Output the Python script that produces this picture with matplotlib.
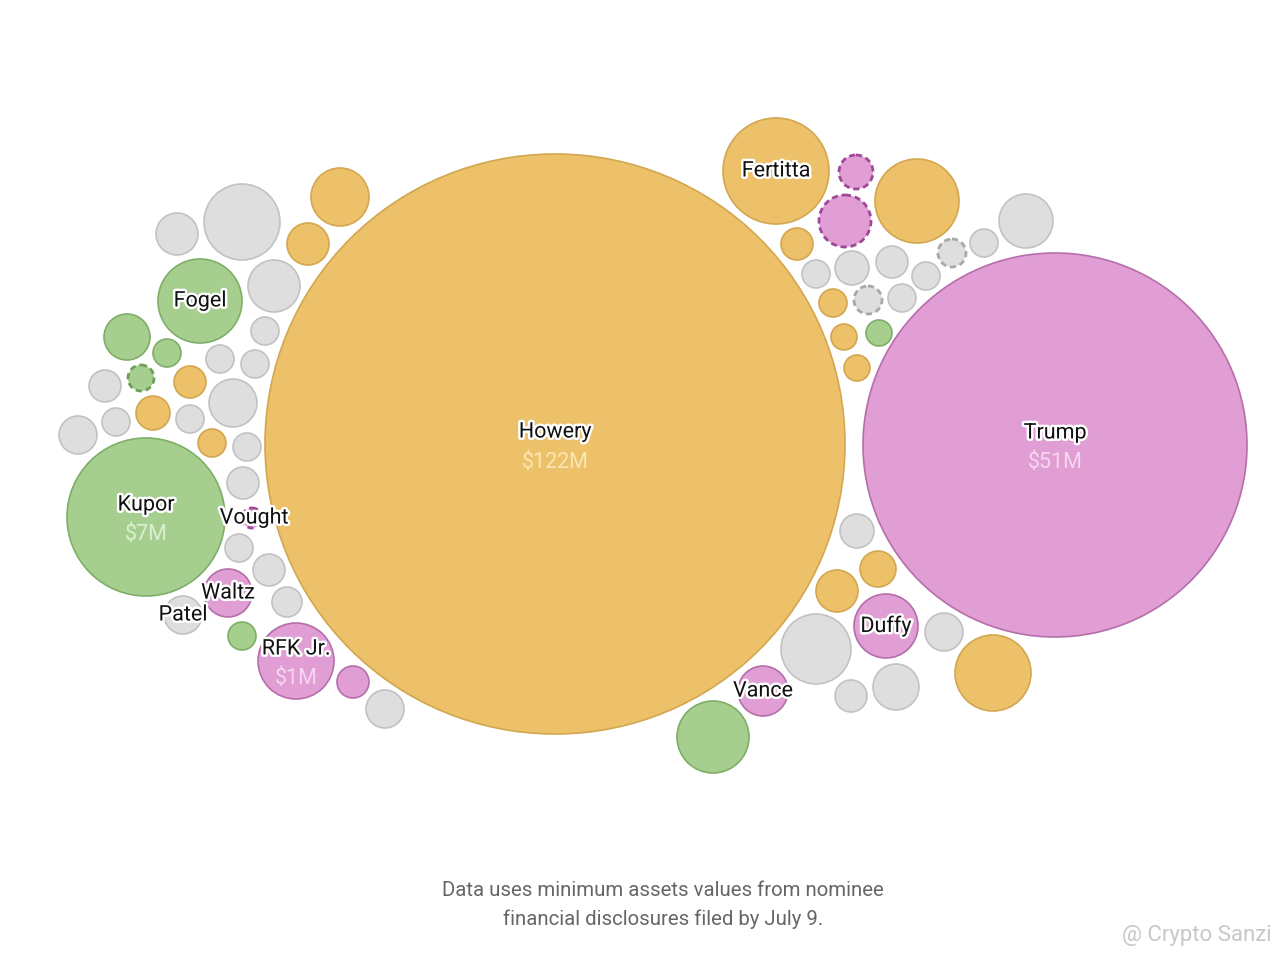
import matplotlib.pyplot as plt
from matplotlib.patches import Circle
import matplotlib.patheffects as pe

# ---------------------------------------------------
# bubble layout (pixel units, y down)
# group: o = orange, p = pink, g = green, n = gray ; dashed = 1

xs = [555, 1055, 146, 200, 776, 296, 886, 763, 228, 183, 252,
      177, 242, 340, 308, 274, 265, 127, 167, 220, 255, 141, 105, 190, 233,
      153, 116, 190, 78, 212, 247, 243, 239, 269, 287, 242, 353, 385,
      856, 917, 845, 1026, 797, 816, 852, 892, 926, 952, 984, 833, 868,
      902, 844, 879, 857,
      857, 878, 837, 816, 944, 993, 851, 896, 713]
ys = [444, 445, 517, 301, 171, 661, 626, 691, 593, 615, 518,
      234, 222, 197, 244, 286, 331, 337, 353, 359, 364, 378, 386, 382, 403,
      413, 422, 419, 435, 443, 447, 483, 548, 570, 602, 636, 682, 709,
      172, 201, 221, 221, 244, 274, 268, 262, 276, 253, 243, 303, 300,
      298, 337, 333, 368,
      531, 569, 591, 649, 632, 673, 696, 687, 737]
rs = [290, 192, 79, 42, 53, 38, 32, 25, 24, 19, 10,
      21, 38, 29, 21, 26, 14, 23, 14, 14, 14, 13, 16, 16, 24,
      17, 14, 14, 19, 14, 14, 16, 14, 16, 15, 14, 16, 19,
      17, 42, 26, 27, 16, 14, 17, 16, 14, 14, 14, 14, 14,
      14, 13, 13, 13,
      17, 18, 21, 35, 19, 38, 16, 23, 36]
groups = ['o', 'p', 'g', 'g', 'o', 'p', 'p', 'p', 'p', 'n', 'p',
          'n', 'n', 'o', 'o', 'n', 'n', 'g', 'g', 'n', 'n', 'g', 'n', 'o', 'n',
          'o', 'n', 'n', 'n', 'o', 'n', 'n', 'n', 'n', 'n', 'g', 'p', 'n',
          'p', 'o', 'p', 'n', 'o', 'n', 'n', 'n', 'n', 'n', 'n', 'o', 'n',
          'n', 'o', 'g', 'o',
          'n', 'o', 'o', 'n', 'n', 'o', 'n', 'n', 'g']
dashed = [0, 0, 0, 0, 0, 0, 0, 0, 0, 0, 1,
          0, 0, 0, 0, 0, 0, 0, 0, 0, 0, 1, 0, 0, 0,
          0, 0, 0, 0, 0, 0, 0, 0, 0, 0, 0, 0, 0,
          1, 0, 1, 0, 0, 0, 0, 0, 0, 1, 0, 0, 1,
          0, 0, 0, 0,
          0, 0, 0, 0, 0, 0, 0, 0, 0]

# labels: (name, value, label x, label y)
names = ['Howery', 'Trump', 'Kupor', 'Fogel', 'Fertitta', 'RFK Jr.', 'Duffy',
         'Vance', 'Waltz', 'Patel', 'Vought']
values = ['$122M', '$51M', '$7M', '', '', '$1M', '', '', '', '', '']
label_x = [555, 1055, 146, 200, 776, 296, 886, 763, 228, 183, 254]
label_y = [432, 433, 505, 301, 171, 649, 626, 691, 593, 615, 518]

note = 'Data uses minimum assets values from nominee\nfinancial disclosures filed by July 9.'

fill = {'o': '#EDC06A', 'p': '#E09ED5', 'g': '#A6CF8F', 'n': '#DEDEDF'}
edge = {'o': '#D3A650', 'p': '#B56EAB', 'g': '#7EAE68', 'n': '#C2C2C4'}
dash_edge = {'o': '#C08A30', 'p': '#A0479A', 'g': '#6E9E58', 'n': '#A8A8AA'}
val_col = {'o': '#FCE6B2', 'p': '#F7D6F0', 'g': '#DCEFD0', 'n': '#FFFFFF'}

# ---------------------------------------------------

plt.rcParams['font.family'] = ['Roboto', 'DejaVu Sans']

fig = plt.figure(figsize=(12.8, 9.6), dpi=100)
ax = fig.add_axes([0, 0, 1, 1])
ax.set_xlim(0, 1280)
ax.set_ylim(960, 0)
ax.set_aspect('equal')
ax.axis('off')

for x, y, r, g, d in zip(xs, ys, rs, groups, dashed):
    if d:
        c = Circle((x, y), r, facecolor=fill[g], edgecolor=dash_edge[g],
                   linewidth=2, linestyle=(0, (2.2, 1.4)), zorder=2)
    else:
        c = Circle((x, y), r, facecolor=fill[g], edgecolor=edge[g],
                   linewidth=1.2, zorder=2)
    ax.add_patch(c)

halo = [pe.withStroke(linewidth=3.5, foreground='white')]
for i, name in enumerate(names):
    ax.text(label_x[i], label_y[i], name, ha='center', va='center',
            fontsize=15.5, color='#111111', path_effects=halo, zorder=5)
    if values[i]:
        ax.text(label_x[i], label_y[i] + 30, values[i], ha='center', va='center',
                fontsize=15.5, color=val_col[groups[i]], zorder=5)

ax.text(663, 905, note, ha='center', va='center', fontsize=14.7,
        color='#666666', linespacing=1.55)
ax.text(1272, 936, '@ Crypto Sanzi', ha='right', va='center', fontsize=16,
        color='#C8C8C8')

fig.savefig('out.png', dpi=100)
